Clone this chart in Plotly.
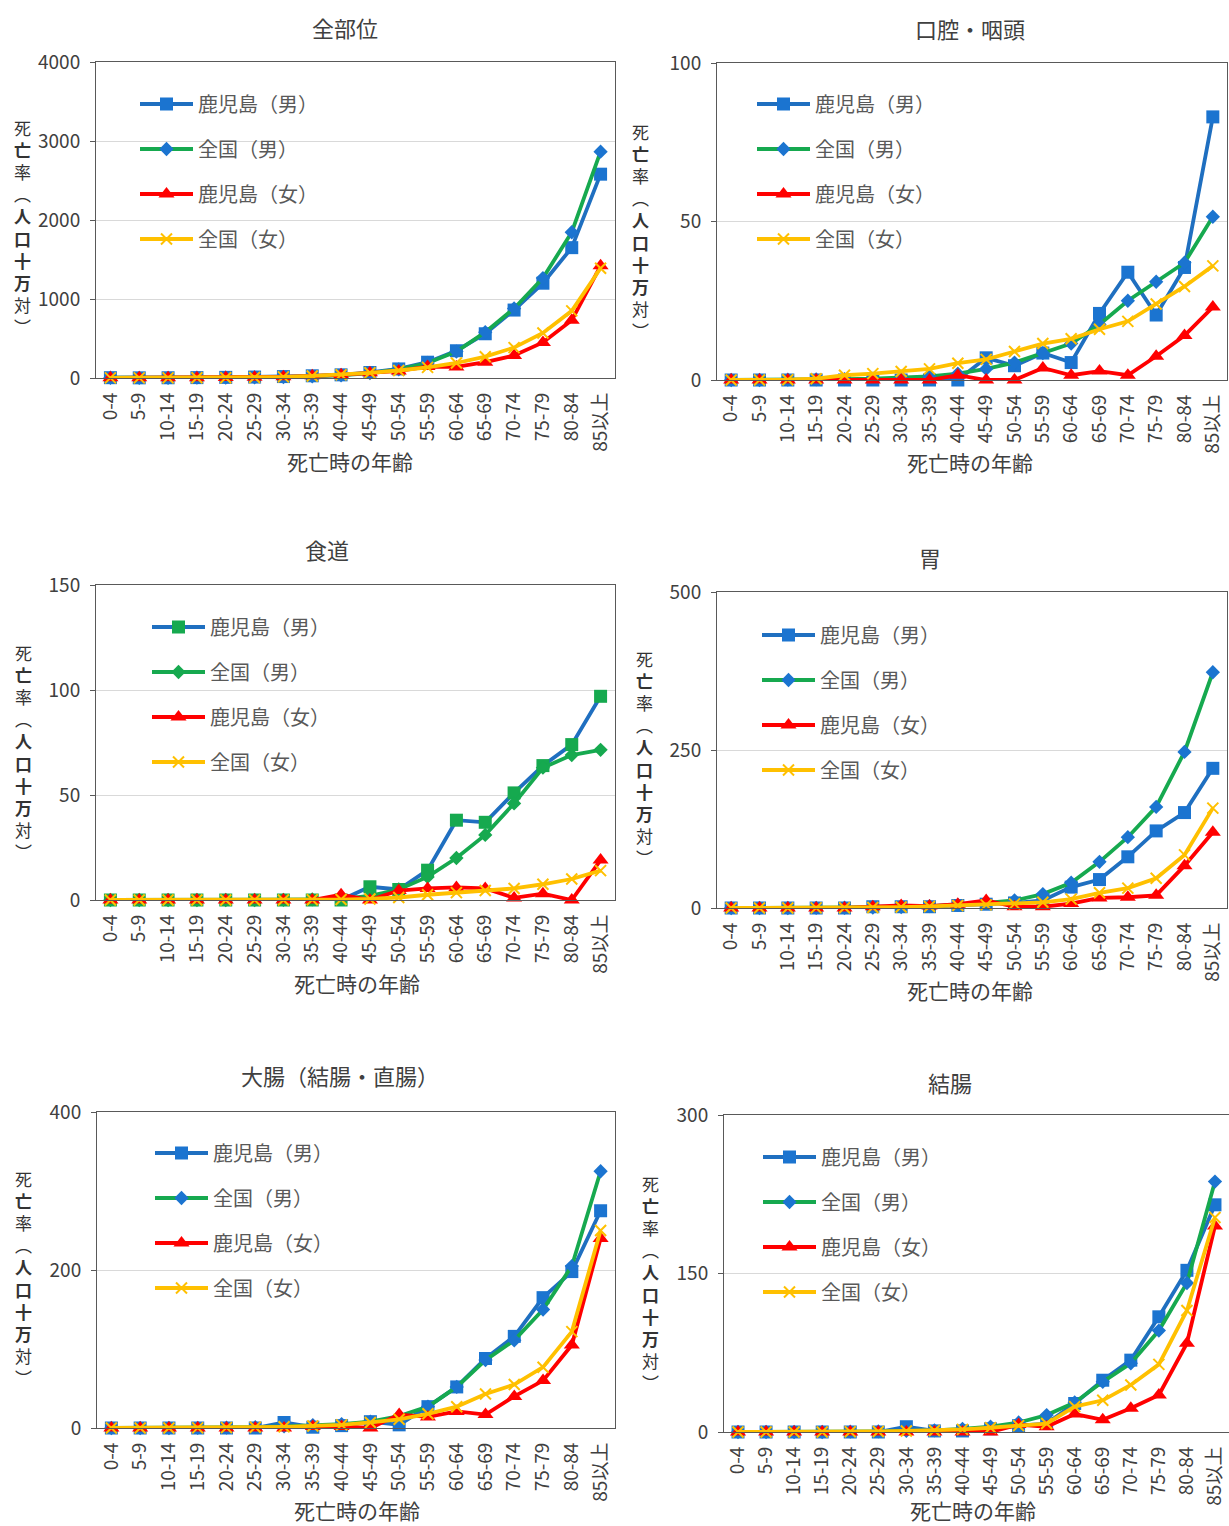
import plotly.graph_objects as go

# ---- data: cancer mortality rate per 100,000 by age group ----
AGE_GROUPS = ["0-4", "5-9", "10-14", "15-19", "20-24", "25-29", "30-34", "35-39",
              "40-44", "45-49", "50-54", "55-59", "60-64", "65-69", "70-74",
              "75-79", "80-84", "85以上"]

SERIES_NAMES = ["鹿児島（男）", "全国（男）", "鹿児島（女）", "全国（女）"]

# 全部位
ALL_KAGOSHIMA_M = [4, 2, 3, 5, 8, 12, 18, 28, 40, 70, 115, 200, 345, 560, 860, 1200, 1650, 2580]
ALL_JAPAN_M = [3, 2, 2, 4, 6, 8, 12, 20, 35, 62, 110, 190, 335, 580, 880, 1265, 1845, 2865]
ALL_KAGOSHIMA_F = [2, 3, 2, 3, 5, 8, 15, 28, 40, 65, 90, 145, 140, 200, 285, 450, 730, 1420]
ALL_JAPAN_F = [2, 2, 2, 3, 4, 7, 14, 26, 42, 66, 95, 135, 190, 270, 385, 570, 850, 1390]

# 口腔・咽頭
ORAL_KAGOSHIMA_M = [0, 0, 0, 0, 0, 0, 0, 0, 0, 7, 4.5, 8.5, 5.5, 21, 34, 20.5, 35.5, 83]
ORAL_JAPAN_M = [0, 0, 0.1, 0.2, 0.3, 0.4, 0.7, 1.1, 2, 3.5, 5.5, 8.5, 11.5, 17.5, 25, 31, 37, 51.5]
ORAL_KAGOSHIMA_F = [0, 0, 0, 0, 0, 0, 0, 0, 1.5, 0, 0, 3.8, 1.5, 2.8, 1.5, 7.5, 14, 23]
ORAL_JAPAN_F = [0, 0, 0.1, 0.4, 1.5, 2, 2.7, 3.5, 5.3, 6.5, 9, 11.5, 13, 16, 18.5, 24, 29.5, 36]

# 食道
ESO_KAGOSHIMA_M = [0, 0, 0, 0, 0, 0, 0, 0, 0, 6.3, 5, 14.2, 38, 37, 51, 64, 74, 97]
ESO_JAPAN_M = [0, 0, 0, 0, 0, 0, 0.1, 0.3, 0.5, 2, 5, 11, 20, 31, 46, 63, 69, 71.5]
ESO_KAGOSHIMA_F = [0, 0, 0, 0, 0, 0, 0, 0, 2.5, 0, 4.5, 5.5, 6, 5.5, 1, 3, 0, 19]
ESO_JAPAN_F = [0, 0, 0, 0, 0, 0, 0, 0.1, 0.2, 0.5, 1.2, 2.5, 3.5, 4.5, 5.5, 7.5, 10, 14]

# 胃
STOM_KAGOSHIMA_M = [0, 0, 0, 0, 0, 2, 2, 2, 4, 6, 8, 12, 33, 45, 81, 122, 151, 221]
STOM_JAPAN_M = [0, 0, 0, 0.2, 0.4, 0.8, 1.5, 3, 5, 8, 12, 22, 40, 73, 112, 160, 247, 373]
STOM_KAGOSHIMA_F = [0, 0, 0, 0, 0, 2, 4, 3, 6, 12, 2, 2, 7, 16, 17, 20, 67, 120]
STOM_JAPAN_F = [0, 0, 0, 0.2, 0.4, 0.8, 1.5, 2.5, 4, 5, 6.5, 9, 14, 24, 31.5, 47, 84, 158]

# 大腸（結腸・直腸）
CRC_KAGOSHIMA_M = [0, 0, 0, 0, 0, 0, 7, 1, 3, 8, 4, 27, 52, 88, 116, 165, 198, 275]
CRC_JAPAN_M = [0, 0, 0, 0.2, 0.5, 1, 2, 3.5, 5, 8, 15, 27, 52, 86, 111, 150, 205, 325]
CRC_KAGOSHIMA_F = [0, 0, 0, 0, 0, 0, 0, 2, 2, 0, 17, 14, 21, 17, 40, 60, 105, 240]
CRC_JAPAN_F = [0, 0, 0, 0.2, 0.5, 1, 1.5, 2.5, 4, 7, 11, 18, 27, 43, 55, 77, 122, 250]

# 結腸
COLON_KAGOSHIMA_M = [0, 0, 0, 0, 0, 0, 5, 1, 1, 3, 6, 8, 27, 49, 68, 109, 153, 215]
COLON_JAPAN_M = [0, 0, 0, 0, 0.3, 0.6, 1, 1.5, 3, 5, 9, 16, 28, 47.5, 65, 96, 141, 237]
COLON_KAGOSHIMA_F = [0, 0, 0, 0, 0, 0, 0, 0, 0, 0, 7, 5, 17, 11.5, 22.5, 35, 84, 195]
COLON_JAPAN_F = [0, 0, 0, 0, 0.3, 0.5, 1, 1.5, 2.5, 4, 6, 8, 24, 30, 44.5, 64, 115, 203]

PANEL_TITLES = ["全部位", "口腔・咽頭", "食道", "胃", "大腸（結腸・直腸）", "結腸"]
Y_MAX = [4000, 100, 150, 500, 400, 300]
Y_DTICK = [1000, 50, 50, 250, 200, 150]
PANEL_DATA = [
    [ALL_KAGOSHIMA_M, ALL_JAPAN_M, ALL_KAGOSHIMA_F, ALL_JAPAN_F],
    [ORAL_KAGOSHIMA_M, ORAL_JAPAN_M, ORAL_KAGOSHIMA_F, ORAL_JAPAN_F],
    [ESO_KAGOSHIMA_M, ESO_JAPAN_M, ESO_KAGOSHIMA_F, ESO_JAPAN_F],
    [STOM_KAGOSHIMA_M, STOM_JAPAN_M, STOM_KAGOSHIMA_F, STOM_JAPAN_F],
    [CRC_KAGOSHIMA_M, CRC_JAPAN_M, CRC_KAGOSHIMA_F, CRC_JAPAN_F],
    [COLON_KAGOSHIMA_M, COLON_JAPAN_M, COLON_KAGOSHIMA_F, COLON_JAPAN_F],
]

# ---- page geometry (pixels) ----
W, H = 1229, 1526
FONT = "Noto Sans CJK JP, Noto Sans, sans-serif"
TEXT_DARK = "#404040"
TEXT_GREY = "#595959"
AXIS_COLOR = "#595959"
GRID_COLOR = "#D9D9D9"

# plot boxes: (left, right, top, bottom)
BOXES = [
    (96, 615, 62, 378),
    (717, 1227, 63, 380),
    (96, 615, 585, 900),
    (717, 1227, 592, 908),
    (97, 615, 1112, 1428),
    (724, 1229, 1115, 1432),
]
TITLE_POS = [(345, 27), (970, 28), (327, 549), (930, 557), (340, 1075), (950, 1082)]
XTITLE_POS = [(350, 461), (970, 462), (357, 983), (970, 990), (357, 1510), (973, 1510)]
YTITLE_POS = [(22, 227), (641, 231), (23, 752), (644, 758), (23, 1278), (650, 1283)]
LEGEND_POS = [(140, 104), (757, 104), (152, 627), (762, 635), (155, 1153), (763, 1157)]


def px_x(x):
    return min(max(x / W, 0.0), 1.0)


def px_y(y):
    return min(max(1 - y / H, 0.0), 1.0)


BLUE_LINE = "#1F6FC0"
BLUE_MARK = "#1B74D0"
GREEN = "#16A94F"
RED = "#FF0000"
GOLD = "#FFC000"
LINE_W = 3.8

LEGEND_FONT = 20
ITEM_H = LEGEND_FONT * 1.3 + 3
ROW_GAP = 45

fig = go.Figure()

for p in range(6):
    ax = "" if p == 0 else str(p + 1)
    leg = "legend" if p == 0 else f"legend{p + 1}"
    kag_m, jpn_m, kag_f, jpn_f = PANEL_DATA[p]
    # the esophagus chart uses green markers for the male series
    square_color = GREEN if p == 2 else BLUE_MARK
    diamond_color = GREEN if p == 2 else BLUE_MARK
    styles = [
        dict(line=dict(color=BLUE_LINE, width=LINE_W),
             marker=dict(symbol="square", size=13, color=square_color)),
        dict(line=dict(color=GREEN, width=LINE_W),
             marker=dict(symbol="diamond", size=11, color=diamond_color)),
        dict(line=dict(color=RED, width=LINE_W),
             marker=dict(symbol="triangle-up", size=14, color=RED)),
        dict(line=dict(color=GOLD, width=LINE_W),
             marker=dict(symbol="x-thin", size=11, color=GOLD,
                         line=dict(color=GOLD, width=2))),
    ]
    for i, vals in enumerate([kag_m, jpn_m, kag_f, jpn_f]):
        fig.add_trace(go.Scatter(
            x=AGE_GROUPS, y=vals, name=SERIES_NAMES[i],
            mode="lines+markers", cliponaxis=False,
            xaxis="x" + ax, yaxis="y" + ax,
            legend=leg, legendgroup=f"p{p}s{i}",
            hoverinfo="x+y+name",
            **styles[i],
        ))

    l, r, t, b = BOXES[p]
    fig.layout["xaxis" + ax] = dict(
        domain=[px_x(l), px_x(r)], anchor="y" + ax, automargin=False,
        type="category", categoryorder="array", categoryarray=AGE_GROUPS,
        range=[-0.5, len(AGE_GROUPS) - 0.5],
        tickangle=-90, ticks="", showgrid=False,
        showline=True, linecolor=AXIS_COLOR, linewidth=1, mirror=True,
        tickfont=dict(family=FONT, size=19, color=TEXT_DARK),
        ticklabelstandoff=6,
    )
    fig.layout["yaxis" + ax] = dict(
        domain=[px_y(b), px_y(t)], anchor="x" + ax, automargin=False,
        range=[0, Y_MAX[p]], dtick=Y_DTICK[p], tick0=0,
        showgrid=True, gridcolor=GRID_COLOR, gridwidth=1, zeroline=False,
        showline=True, linecolor=AXIS_COLOR, linewidth=1, mirror=True,
        ticks="outside", ticklen=5, tickcolor=AXIS_COLOR,
        tickfont=dict(family=FONT, size=19, color=TEXT_DARK),
        ticklabelstandoff=6,
    )

    lx, ly = LEGEND_POS[p]
    fig.layout[leg] = dict(
        x=px_x(lx - 5), y=px_y(ly - 5 - ITEM_H / 2),
        xanchor="left", yanchor="top",
        bgcolor="rgba(0,0,0,0)", borderwidth=0,
        traceorder="grouped", tracegroupgap=ROW_GAP - ITEM_H,
        itemwidth=53,
        font=dict(family=FONT, size=LEGEND_FONT, color=TEXT_GREY),
    )

annotations = []
y_title = "死<br><b>亡</b><br>率<br>︵<br><b>人</b><br><b>口</b><br><b>十</b><br><b>万</b><br>対<br>︶"
for p in range(6):
    tx, ty = TITLE_POS[p]
    annotations.append(dict(
        text=PANEL_TITLES[p], x=px_x(tx), y=px_y(ty), xref="paper", yref="paper",
        xanchor="center", yanchor="middle", showarrow=False,
        font=dict(family=FONT, size=22, color=TEXT_DARK)))
    xx, xy = XTITLE_POS[p]
    annotations.append(dict(
        text="死亡時の年齢", x=px_x(xx), y=px_y(xy), xref="paper", yref="paper",
        xanchor="center", yanchor="middle", showarrow=False,
        font=dict(family=FONT, size=21, color=TEXT_DARK)))
    yx, yy = YTITLE_POS[p]
    annotations.append(dict(
        text=y_title, x=px_x(yx), y=px_y(yy), xref="paper", yref="paper",
        xanchor="center", yanchor="middle", showarrow=False,
        font=dict(family=FONT, size=17, color="#333333")))

fig.update_layout(
    width=W, height=H, autosize=False,
    margin=dict(l=0, r=0, t=0, b=0, autoexpand=False),
    paper_bgcolor="white", plot_bgcolor="white",
    font=dict(family=FONT, color=TEXT_DARK),
    annotations=annotations,
    showlegend=True,
)

fig.write_html("out.html")
